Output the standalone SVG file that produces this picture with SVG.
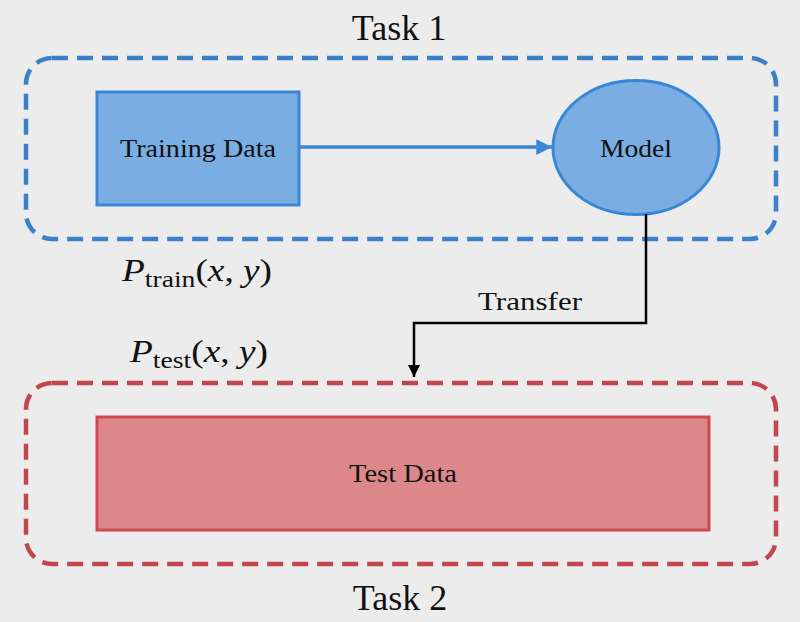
<svg xmlns="http://www.w3.org/2000/svg" width="800" height="622" viewBox="0 0 800 622">
<defs>
<style>
.serif{font-family:"Liberation Serif","Times New Roman",serif;fill:#111}
.task{font-size:36px}
.lbl{font-size:26px}
.math{font-size:31px}
.blue-dash{fill:none;stroke:#3c80c9;stroke-width:4.5;stroke-dasharray:16 9}
.red-dash{fill:none;stroke:#c2474d;stroke-width:4.5;stroke-dasharray:16 9}
</style>
<marker id="ah-blue" viewBox="0 0 10 10" refX="10" refY="5" markerWidth="5.5" markerHeight="4.5" markerUnits="strokeWidth" orient="auto">
<path d="M0,0 L10,5 L0,10 z" fill="#3c86d6"/>
</marker>
<marker id="ah-black" viewBox="0 0 10 10" refX="10" refY="5" markerWidth="5" markerHeight="5" markerUnits="strokeWidth" orient="auto">
<path d="M0,0 L10,5 L0,10 z" fill="#000"/>
</marker>
</defs>
<rect x="0" y="0" width="800" height="622" fill="#ececec"/>

<g id="task1">
<rect class="blue-dash" x="26" y="58" width="750" height="181" rx="26" ry="26"/>
<text class="serif task" x="399" y="40" text-anchor="middle">Task 1</text>
</g>

<g id="task2">
<rect class="red-dash" x="26" y="383" width="750" height="181" rx="26" ry="26"/>
<text class="serif task" x="400" y="610" text-anchor="middle">Task 2</text>
</g>

<g id="training-data">
<rect x="97" y="92" width="202" height="113" fill="#7aaee3" stroke="#3a86d6" stroke-width="3"/>
<text class="serif lbl" x="198" y="157" text-anchor="middle" textLength="156" lengthAdjust="spacingAndGlyphs">Training Data</text>
</g>

<g id="model">
<ellipse cx="636" cy="147.5" rx="83" ry="67" fill="#7aaee3" stroke="#3a86d6" stroke-width="3"/>
<text class="serif lbl" x="636" y="157" text-anchor="middle" textLength="72" lengthAdjust="spacingAndGlyphs">Model</text>
</g>

<g id="test-data">
<rect x="97" y="417" width="612" height="113" fill="#dc888a" stroke="#cf4a50" stroke-width="3"/>
<text class="serif lbl" x="403" y="482" text-anchor="middle" textLength="108" lengthAdjust="spacingAndGlyphs">Test Data</text>
</g>

<g id="p-train">
<text class="serif math" x="122" y="281" textLength="150" lengthAdjust="spacingAndGlyphs"><tspan font-style="italic">P</tspan><tspan font-size="23" dy="6">train</tspan><tspan dy="-6">(</tspan><tspan font-style="italic">x</tspan>, <tspan font-style="italic">y</tspan>)</text>
</g>

<g id="p-test">
<text class="serif math" x="130" y="362" textLength="138" lengthAdjust="spacingAndGlyphs"><tspan font-style="italic">P</tspan><tspan font-size="23" dy="6">test</tspan><tspan dy="-6">(</tspan><tspan font-style="italic">x</tspan>, <tspan font-style="italic">y</tspan>)</text>
</g>

<g id="connectors">
<line x1="299" y1="147" x2="552" y2="147" stroke="#3a86d6" stroke-width="3.5" marker-end="url(#ah-blue)"/>
<polyline points="646,214 646,323 414,323 414,377" fill="none" stroke="#000" stroke-width="2.5" marker-end="url(#ah-black)"/>
<text class="serif lbl" x="530" y="310" text-anchor="middle" textLength="104" lengthAdjust="spacingAndGlyphs">Transfer</text>
</g>
</svg>
